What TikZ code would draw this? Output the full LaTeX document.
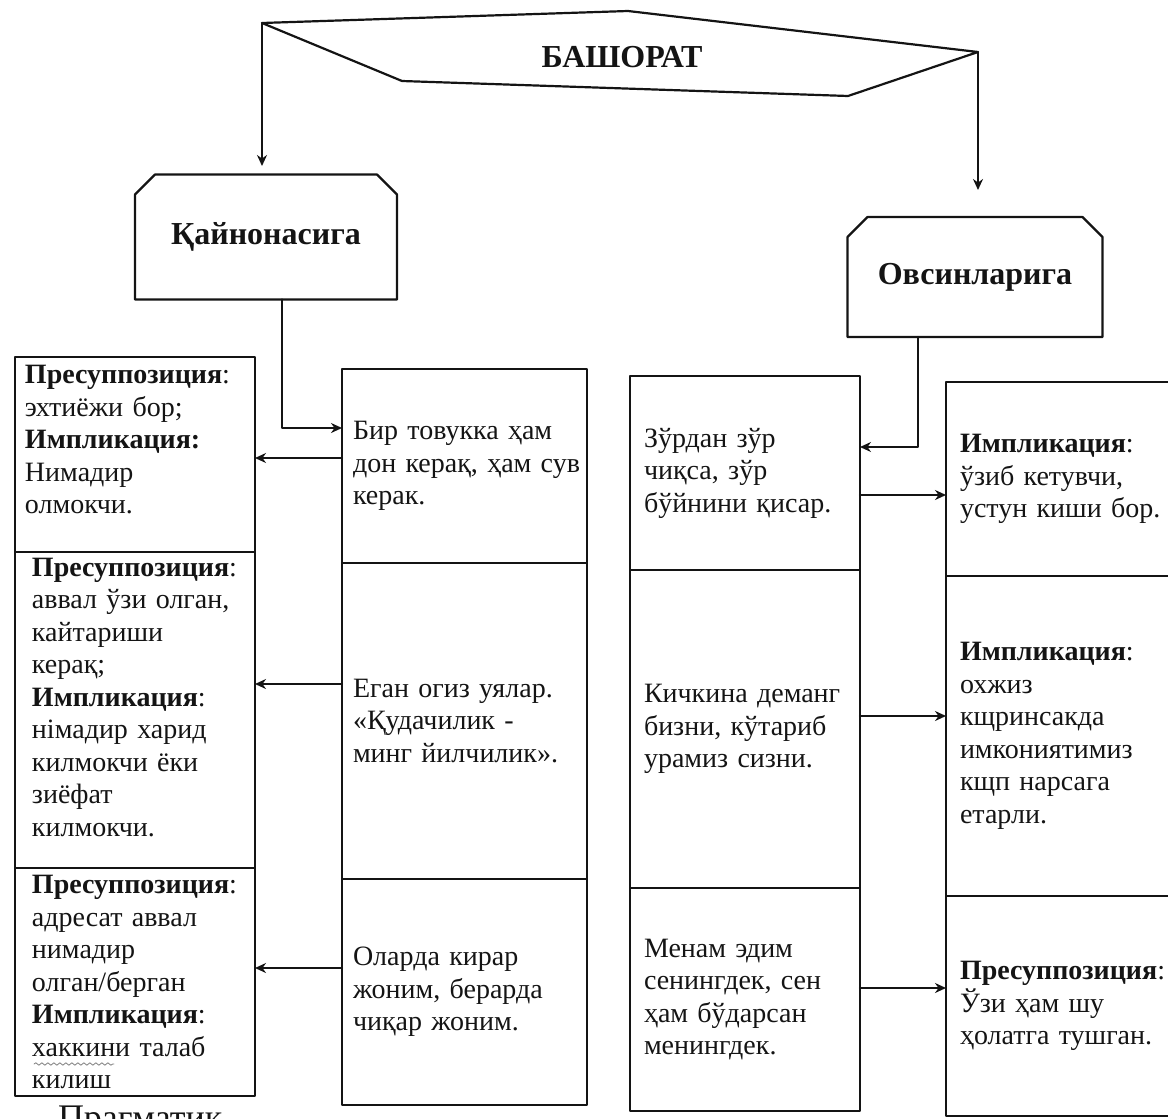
\documentclass[tikz,border=0pt]{standalone}
\usepackage{fontspec}
\setmainfont{Liberation Serif}
\usetikzlibrary{arrows.meta,positioning,decorations.pathmorphing}
\hyphenpenalty=10000
\exhyphenpenalty=10000
\definecolor{ScanInk}{gray}{0.08}
\definecolor{ScanMark}{gray}{0.5}
\tikzset{
    bash/diagram/.style={
        font=\fontsize{14}{16.25}\selectfont,
        draw=ScanInk,
        text=ScanInk,
        line width=1.1pt,
        line cap=round,
        line join=round,
        every node/.style={outer sep=0pt}
    },
    bash/frame/.style={draw=ScanInk, line width=1.1pt},
    bash/title/.style={font=\fontsize{16}{19}\selectfont\bfseries, inner sep=0pt},
    bash/head/.style={
        rectangle, draw=none, inner sep=0pt,
        font=\fontsize{16}{19}\selectfont\bfseries
    },
    bash/cell/.style={
        rectangle, draw=ScanInk, line width=1.1pt, anchor=north west,
        align=left, inner xsep=7pt, inner ysep=0pt
    },
    bash/map/.style={
        draw=ScanInk, line width=1.1pt,
        -{Stealth[length=5.5pt, width=5pt]}
    },
    bash/squiggle/.style={
        draw=ScanMark, line width=0.4pt, decorate,
        decoration={snake, amplitude=0.6pt, segment length=3pt}
    }
}

\begin{document}
\begin{tikzpicture}[bash/diagram, x=0.5pt, y=-0.5pt]
    \useasboundingbox (0,0) rectangle (1168,1119);
    \draw[bash/frame] (262,23) coordinate (pA) -- (628,11) -- (978,52) coordinate (pC)
                      -- (848,96) -- (402,81) -- cycle;
    \node[bash/title] (bashorat) at (622,57) {БАШОРАТ};
    \node[bash/head, minimum width=131pt, minimum height=62.5pt] (kayn) at (266,237) {Қайнонасига};
    \node[bash/head, minimum width=127.5pt, minimum height=60pt] (ovs) at (975,277) {Овсинларига};
    \foreach \h in {kayn,ovs}
        \draw[bash/frame] (\h.south west) -- ([yshift=-10pt]\h.north west)
            -- ([xshift=10pt]\h.north west) -- ([xshift=-10pt]\h.north east)
            -- ([yshift=-10pt]\h.north east) -- (\h.south east) -- cycle;
    \coordinate (kaynIn) at (262,166);
    \coordinate (ovsIn) at (978,190);
    \draw[bash/map] (pA) -- (kaynIn);
    \draw[bash/map] (pC) -- (ovsIn);

    \node[bash/cell, text width=110pt, inner xsep=5pt, minimum height=97.5pt, text depth=80pt] (c1a) at (15,357)
        {\textbf{Пресуппозиция}:\\эхтиёжи бор;\\\textbf{Импликация:}\\Нимадир\\олмокчи.};
    \node[bash/cell, text width=103pt, inner xsep=8.5pt, minimum height=158pt, text depth=143pt, below=0pt of c1a] (c1b)
        {\textbf{Пресуппозиция}:\\аввал~ўзи~олган,\\кайтариши\\керақ;\\\textbf{Импликация}:\\німадир~харид\\килмокчи~ёки\\зиёфат\\килмокчи.};
    \node[bash/cell, text width=103pt, inner xsep=8.5pt, minimum height=114pt, below=0pt of c1b] (c1c)
        {\textbf{Пресуппозиция}:\\адресат~аввал\\нимадир\\олган/берган\\\textbf{Импликация}:\\хаккини~талаб\\килиш};

    \node[bash/cell, text width=111.5pt, inner xsep=5.5pt, minimum height=97pt] (c2a) at (342,369)
        {Бир~товукка~ҳам\\дон~керақ,~ҳам~сув\\керак.};
    \node[bash/cell, text width=111.5pt, inner xsep=5.5pt, minimum height=158pt, below=0pt of c2a] (c2b)
        {Еган~огиз~уялар.\\«Қудачилик~-\\минг~йилчилик».};
    \node[bash/cell, text width=111.5pt, inner xsep=5.5pt, minimum height=113pt, below=0pt of c2b] (c2c)
        {Оларда~кирар\\жоним,~берарда\\чиқар~жоним.};

    \node[bash/cell, text width=101pt, minimum height=97pt] (c3a) at (630,376)
        {Зўрдан~зўр\\чиқса,~зўр\\бўйнини~қисар.};
    \node[bash/cell, text width=101pt, minimum height=159pt, below=0pt of c3a] (c3b)
        {Кичкина~деманг\\бизни,~кўтариб\\урамиз~сизни.};
    \node[bash/cell, text width=101pt, minimum height=111.5pt, below=0pt of c3b] (c3c)
        {Менам~эдим\\сенингдек,~сен\\ҳам~бўдарсан\\менингдек.};

    \node[bash/cell, text width=111pt, minimum height=97pt] (c4a) at (946,382)
        {\textbf{Импликация}:\\ўзиб~кетувчи,\\устун~киши~бор.};
    \node[bash/cell, text width=111pt, minimum height=160pt, below=0pt of c4a] (c4b)
        {\textbf{Импликация}:\\охжиз\\кщринсакда\\имкониятимиз\\кщп~нарсага\\етарли.};
    \node[bash/cell, text width=111pt, minimum height=110pt, below=0pt of c4b] (c4c)
        {\textbf{Пресуппозиция}:\\Ўзи~ҳам~шу\\ҳолатга~тушган.};

    \draw[bash/map] ([xshift=8pt]kayn.south) |- ([yshift=19pt]c2a.west);
    \draw[bash/map] ([xshift=-28.5pt]ovs.south) |- ([yshift=13pt]c3a.east);
    \draw[bash/map] ([yshift=4pt]c2a.west) -- ([yshift=4pt]c2a.west -| c1a.east);
    \draw[bash/map] ([yshift=18.5pt]c2b.west) -- ([yshift=18.5pt]c2b.west -| c1b.east);
    \draw[bash/map] ([yshift=12pt]c2c.west) -- ([yshift=12pt]c2c.west -| c1c.east);
    \draw[bash/map] ([yshift=-11pt]c3a.east) -- ([yshift=-11pt]c3a.east -| c4a.west);
    \draw[bash/map] ([yshift=6.5pt]c3b.east) -- ([yshift=6.5pt]c3b.east -| c4b.west);
    \draw[bash/map] ([yshift=5.75pt]c3c.east) -- ([yshift=5.75pt]c3c.east -| c4c.west);

    \draw[bash/squiggle] (34,1064) -- (114,1064);
    \node[anchor=north west, inner sep=0pt, font=\fontsize{18}{21}\selectfont] (pragm) at (58,1106) {Прагматик};
\end{tikzpicture}
\end{document}
